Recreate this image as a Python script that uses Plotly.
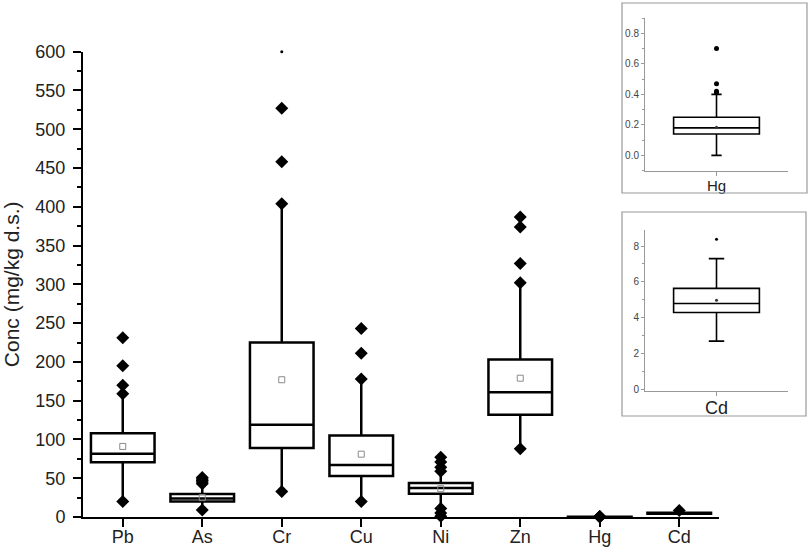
import plotly.graph_objects as go

# Box statistics per element (mg/kg d.s.)
elements = ["Pb", "As", "Cr", "Cu", "Ni", "Zn", "Hg", "Cd"]
q1 = [70.7, 20, 89, 53, 30, 132, 0.14, 4.28]
medians = [81.5, 24, 119, 67, 37.5, 161, 0.18, 4.79]
q3 = [108, 29.5, 225, 105, 43.8, 203, 0.25, 5.63]
lower_fence = [20, 9, 33, 20, 1, 88, 0.0, 2.68]
upper_fence = [159, 42, 404, 178, 59, 302, 0.40, 7.30]
means = [91, 25, 177, 81, 36.5, 179, 0.185, 4.97]

# outliers / extreme points
outliers = {
    "Pb": [231, 195, 170, 159, 20],
    "As": [51, 49, 47, 45, 43, 9],
    "Cr": [527, 458, 404, 33],
    "Cu": [243, 211, 178, 20],
    "Ni": [77, 71, 64, 59, 11, 5, 1],
    "Zn": [387, 374, 327, 302, 88],
    "Hg": [0.70, 0.47, 0.42, 0.41],
    "Cd": [8.38],
}
cr_max_dot = 600

W, H = 809, 554
def px(x):
    return x / W
def py(y):
    return (H - y) / H

fig = go.Figure()

# main box plot
fig.add_trace(go.Box(
    x=elements, q1=q1, median=medians, q3=q3,
    lowerfence=lower_fence, upperfence=upper_fence,
    width=0.8, whiskerwidth=0, boxpoints=False,
    fillcolor="white", line=dict(color="black", width=2.5),
    showlegend=False, hoverinfo="skip"
))

ox, oy = [], []
for el in elements:
    for v in outliers[el]:
        ox.append(el)
        oy.append(v)
fig.add_trace(go.Scatter(
    x=ox, y=oy, mode="markers", cliponaxis=False,
    marker=dict(symbol="diamond", size=10, color="black"),
    showlegend=False
))
fig.add_trace(go.Scatter(
    x=["Cr"], y=[cr_max_dot], mode="markers", cliponaxis=False,
    marker=dict(symbol="circle", size=3, color="black"),
    showlegend=False
))
fig.add_trace(go.Scatter(
    x=elements[:6], y=means[:6], mode="markers",
    marker=dict(symbol="square-open", size=6, color="#8a8a8a", line=dict(width=1)),
    showlegend=False
))

# insets: Hg and Cd
insets = [("Hg", "x2", "y2", 0.12, 5), ("Cd", "x3", "y3", 0.18, 3)]
for el, xa, ya, ww, osize in insets:
    i = elements.index(el)
    fig.add_trace(go.Box(
        x=[el], q1=[q1[i]], median=[medians[i]], q3=[q3[i]],
        lowerfence=[lower_fence[i]], upperfence=[upper_fence[i]],
        width=0.6, whiskerwidth=ww, boxpoints=False,
        fillcolor="white", line=dict(color="black", width=1.6),
        xaxis=xa, yaxis=ya, showlegend=False, hoverinfo="skip"
    ))
    fig.add_trace(go.Scatter(
        x=[el] * len(outliers[el]), y=outliers[el], mode="markers",
        marker=dict(symbol="circle", size=osize, color="black"),
        xaxis=xa, yaxis=ya, showlegend=False
    ))
    fig.add_trace(go.Scatter(
        x=[el], y=[means[i]], mode="markers",
        marker=dict(symbol="circle", size=3, color="#333"),
        xaxis=xa, yaxis=ya, showlegend=False
    ))

font_main = "Liberation Sans, Arial, sans-serif"
inset_axis = dict(showline=True, linecolor="#999", linewidth=1, ticks="outside",
                  tickcolor="#999", showgrid=False, zeroline=False, automargin=False)

fig.update_layout(
    width=W, height=H,
    margin=dict(l=0, r=0, t=0, b=0, autoexpand=False),
    paper_bgcolor="white", plot_bgcolor="rgba(0,0,0,0)",
    font=dict(family=font_main, color="#222"),
    xaxis=dict(
        domain=[px(83), px(719)], range=[-0.5, 7.5], type="category",
        showline=True, linecolor="black", linewidth=2,
        ticks="outside", ticklen=8, tickwidth=1.5, tickcolor="black",
        tickfont=dict(size=18), ticklabelstandoff=-6, automargin=False,
        showgrid=False, zeroline=False, anchor="y"
    ),
    yaxis=dict(
        domain=[py(517), py(51.7)], range=[0, 600],
        showline=True, linecolor="black", linewidth=2,
        ticks="outside", ticklen=8, tickwidth=1.5, tickcolor="black",
        dtick=50, tickfont=dict(size=18), ticklabelstandoff=4, automargin=False,
        showgrid=False, zeroline=False,
        minor=dict(dtick=25, ticks="outside", ticklen=4, tickcolor="black"),
        title=dict(text="Conc (mg/kg d.s.)", font=dict(size=21), standoff=10),
        anchor="x"
    ),
    xaxis2=dict(inset_axis, domain=[px(645), px(788)], range=[-0.5, 0.5],
                type="category", anchor="y2", ticklen=4, ticklabelstandoff=-3,
                tickfont=dict(size=15, color="#222")),
    yaxis2=dict(inset_axis, domain=[py(170.6), py(18.1)], range=[-0.1, 0.9],
                anchor="x2", dtick=0.2, tickformat=".1f", ticklen=3,
                tickfont=dict(size=10, color="#444"),
                minor=dict(dtick=0.1, ticks="outside", ticklen=2, tickcolor="#999")),
    xaxis3=dict(inset_axis, domain=[px(645), px(788)], range=[-0.5, 0.5],
                type="category", anchor="y3", ticklen=4, ticklabelstandoff=-3,
                tickfont=dict(size=18, color="#222")),
    yaxis3=dict(inset_axis, domain=[py(390.8), py(230)], range=[-0.1, 8.9],
                anchor="x3", dtick=2, ticklen=3,
                tickfont=dict(size=10, color="#444"),
                minor=dict(dtick=1, ticks="outside", ticklen=2, tickcolor="#999")),
    shapes=[
        dict(type="rect", xref="paper", yref="paper",
             x0=px(622), x1=px(807), y0=py(193), y1=py(3),
             line=dict(color="#999", width=1.2)),
        dict(type="rect", xref="paper", yref="paper",
             x0=px(622), x1=px(806), y0=py(416), y1=py(212),
             line=dict(color="#999", width=1.2)),
    ],
)

# page body has a default margin; drop it so the figure fills the window
fig.write_html("out.html", config={"displayModeBar": False},
               post_script="document.body.style.margin='0';")
